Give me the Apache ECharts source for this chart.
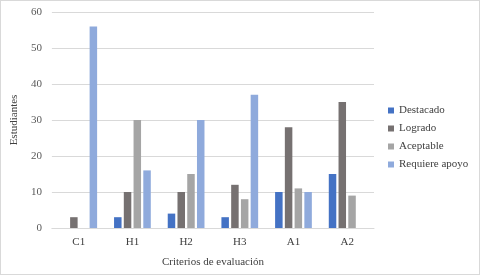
<!DOCTYPE html>
<html>
<head>
<meta charset="utf-8">
<script src="https://cdn.jsdelivr.net/npm/echarts@6/dist/echarts.min.js"></script>
<style>
  html, body { margin: 0; padding: 0; background: #fff; }
  #chart { width: 478px; height: 273px; border: 1px solid #d9d9d9; }
</style>
</head>
<body>
<div id="chart"></div>
<script>
var categories = ['C1', 'H1', 'H2', 'H3', 'A1', 'A2'];
var seriesNames = ['Destacado', 'Logrado', 'Aceptable', 'Requiere apoyo'];
var destacado = [0, 3, 4, 3, 10, 15];
var logrado = [3, 10, 10, 12, 28, 35];
var aceptable = [0, 30, 15, 8, 11, 9];
var requiereApoyo = [56, 16, 30, 37, 10, 0];

var colors = ['#4472C4', '#767171', '#A5A5A5', '#8FAADC'];
var font = 'Liberation Serif';

var myChart = echarts.init(document.getElementById('chart'));

var option = {
  animation: false,
  textStyle: { fontFamily: font },
  color: colors,
  grid: { left: 49, right: 105, top: 11, bottom: 46 },
  legend: {
    orient: 'vertical',
    left: 387,
    top: 104,
    padding: 0,
    itemWidth: 6,
    itemHeight: 6,
    itemGap: 7,
    icon: 'rect',
    textStyle: { fontFamily: font, fontSize: 11, color: '#404040' },
    data: seriesNames
  },
  xAxis: {
    type: 'category',
    data: categories,
    name: 'Criterios de evaluación',
    nameLocation: 'middle',
    nameGap: 29,
    nameTextStyle: { fontFamily: font, fontSize: 11, color: '#404040' },
    axisLine: { lineStyle: { color: '#d9d9d9' } },
    axisTick: { show: false },
    axisLabel: { fontFamily: font, fontSize: 11, color: '#404040', margin: 9 }
  },
  yAxis: {
    type: 'value',
    min: 0,
    max: 60,
    interval: 10,
    name: 'Estudiantes',
    nameLocation: 'middle',
    nameGap: 27,
    nameTextStyle: { fontFamily: font, fontSize: 11, color: '#404040' },
    axisLine: { show: false },
    axisTick: { show: false },
    axisLabel: { fontFamily: font, fontSize: 11, color: '#595959', margin: 10 },
    splitLine: { lineStyle: { color: '#d9d9d9' } }
  },
  series: [
    { name: seriesNames[0], type: 'bar', data: destacado, barWidth: 7.5, barGap: '30%' },
    { name: seriesNames[1], type: 'bar', data: logrado, barWidth: 7.5, barGap: '30%' },
    { name: seriesNames[2], type: 'bar', data: aceptable, barWidth: 7.5, barGap: '30%' },
    { name: seriesNames[3], type: 'bar', data: requiereApoyo, barWidth: 7.5, barGap: '30%' }
  ]
};

myChart.setOption(option);
</script>
</body>
</html>
